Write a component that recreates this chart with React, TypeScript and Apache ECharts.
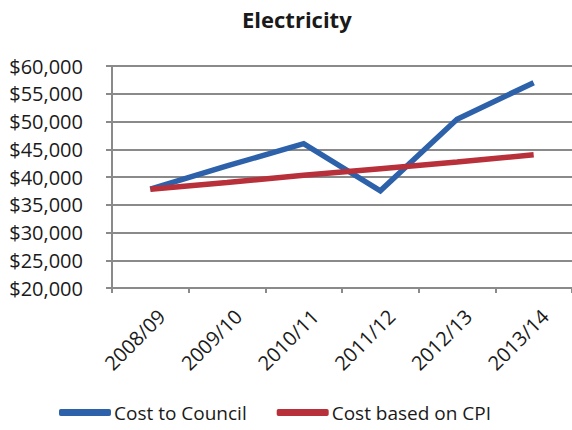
import React, { useEffect, useRef } from "react";
import * as echarts from "echarts";

const categories = ["2008/09", "2009/10", "2010/11", "2011/12", "2012/13", "2013/14"];
const costToCouncil = [37800, 42000, 46000, 37500, 50400, 57000];
const costBasedOnCPI = [37800, 39000, 40300, 41500, 42700, 44000];
const seriesNames = ["Cost to Council", "Cost based on CPI"];
const titleText = "Electricity";

export default function App() {
  const ref = useRef<HTMLDivElement>(null);
  useEffect(() => {
    if (!ref.current) return;
    const chart = echarts.init(ref.current, null, { renderer: "svg" });
    const font = "Open Sans";
    chart.setOption({
      animation: false,
      backgroundColor: "#ffffff",
      title: {
        text: titleText,
        left: 237,
        top: 3,
        textStyle: { fontFamily: font, fontSize: 22, fontWeight: "bold", color: "#1a1a1a" },
      },
      legend: {
        left: 54,
        top: 398,
        itemWidth: 52,
        itemHeight: 7,
        itemGap: 30,
        icon: "roundRect",
        textStyle: { fontFamily: font, fontSize: 19, color: "#1a1a1a", padding: [0, 0, 0, -2] },
        data: seriesNames,
      },
      grid: { left: 112, right: 0, top: 66, bottom: 142, containLabel: false },
      xAxis: {
        type: "category",
        data: categories,
        boundaryGap: true,
        axisLine: { show: true, lineStyle: { color: "#8a8a8a", width: 2 } },
        axisTick: { show: true, alignWithLabel: false, length: 5, lineStyle: { color: "#8a8a8a", width: 2 } },
        axisLabel: {
          rotate: 45,
          interval: 0,
          margin: 22,
          align: "right",
          verticalAlign: "top",
          padding: [0, -6, 0, 0],
          fontFamily: font,
          fontSize: 20,
          color: "#1a1a1a",
        },
      },
      yAxis: {
        type: "value",
        min: 20000,
        max: 60000,
        interval: 5000,
        axisLine: { show: true, lineStyle: { color: "#8a8a8a", width: 2 } },
        axisTick: { show: true, length: 6, lineStyle: { color: "#8a8a8a", width: 2 } },
        splitLine: { show: true, lineStyle: { color: "#8a8a8a", width: 2 } },
        axisLabel: {
          margin: 29,
          fontFamily: font,
          fontSize: 20,
          color: "#1a1a1a",
          formatter: (v: number) => "$" + v.toLocaleString("en-US"),
        },
      },
      series: [
        {
          name: seriesNames[0],
          type: "line",
          data: costToCouncil,
          symbol: "none",
          lineStyle: { color: "#2d62aa", width: 5.5, join: "miter" },
          itemStyle: { color: "#2d62aa" },
          z: 3,
        },
        {
          name: seriesNames[1],
          type: "line",
          data: costBasedOnCPI,
          symbol: "none",
          lineStyle: { color: "#b8303a", width: 5.5 },
          itemStyle: { color: "#b8303a" },
          z: 4,
        },
      ],
    });
    return () => chart.dispose();
  }, []);
  return <div ref={ref} style={{ width: 572, height: 430, position: "absolute", left: 0, top: 0 }} />;
}
